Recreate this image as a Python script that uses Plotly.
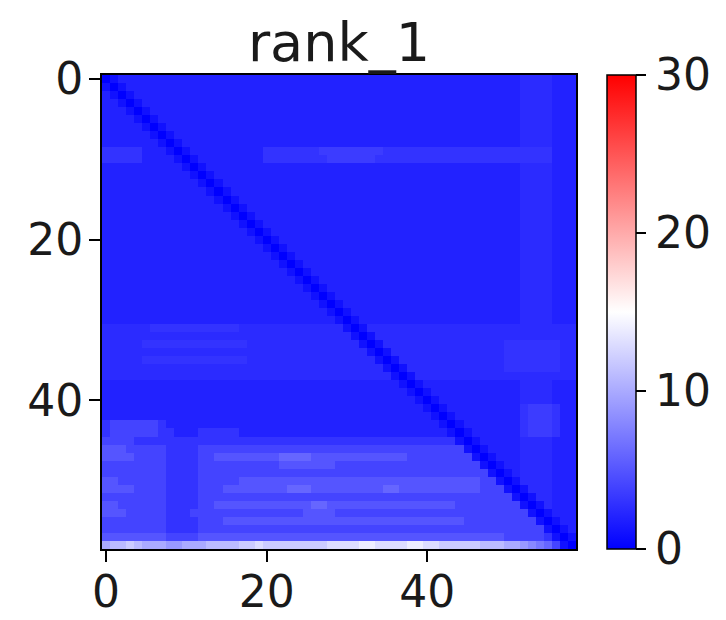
import plotly.graph_objects as go

# Pairwise score matrix (59 x 59), row by row
rank_1 = [
    [0,1,2,2,2,2,2,2,2,2, 2,2,2,2,2,2,2,2,2,2, 2,2,2,2,2,2,2,2,2,2, 2,2,2,2,2,2,2,2,2,2, 2,2,2,2,2,2,2,2,2,2, 2,2,2.5,2.5,2.5,2.5,2,2,2],
    [1,0,1,2,2,2,2,2,2,2, 2,2,2,2,2,2,2,2,2,2, 2,2,2,2,2,2,2,2,2,2, 2,2,2,2,2,2,2,2,2,2, 2,2,2,2,2,2,2,2,2,2, 2,2,2.5,2.5,2.5,2.5,2,2,2],
    [2,1,0,1,2,2,2,2,2,2, 2,2,2,2,2,2,2,2,2,2, 2,2,2,2,2,2,2,2,2,2, 2,2,2,2,2,2,2,2,2,2, 2,2,2,2,2,2,2,2,2,2, 2,2,2.5,2.5,2.5,2.5,2,2,2],
    [2,2,1,0,1,2,2,2,2,2, 2,2,2,2,2,2,2,2,2,2, 2,2,2,2,2,2,2,2,2,2, 2,2,2,2,2,2,2,2,2,2, 2,2,2,2,2,2,2,2,2,2, 2,2,2.5,2.5,2.5,2.5,2,2,2],
    [2,2,2,1,0,1,2,2,2,2, 2,2,2,2,2,2,2,2,2,2, 2,2,2,2,2,2,2,2,2,2, 2,2,2,2,2,2,2,2,2,2, 2,2,2,2,2,2,2,2,2,2, 2,2,2.5,2.5,2.5,2.5,2,2,2],
    [2,2,2,2,1,0,1,2,2,2, 2,2,2,2,2,2,2,2,2,2, 2,2,2,2,2,2,2,2,2,2, 2,2,2,2,2,2,2,2,2,2, 2,2,2,2,2,2,2,2,2,2, 2,2,2.5,2.5,2.5,2.5,2,2,2],
    [2,2,2,2,2,1,0,1,2,2, 2,2,2,2,2,2,2,2,2,2, 2,2,2,2,2,2,2,2,2,2, 2,2,2,2,2,2,2,2,2,2, 2,2,2,2,2,2,2,2,2,2, 2,2,2.5,2.5,2.5,2.5,2,2,2],
    [2,2,2,2,2,2,1,0,1,2, 2,2,2,2,2,2,2,2,2,2, 2,2,2,2,2,2,2,2,2,2, 2,2,2,2,2,2,2,2,2,2, 2,2,2,2,2,2,2,2,2,2, 2,2,2.5,2.5,2.5,2.5,2,2,2],
    [2,2,2,2,2,2,2,1,0,1, 2,2,2,2,2,2,2,2,2,2, 2,2,2,2,2,2,2,2,2,2, 2,2,2,2,2,2,2,2,2,2, 2,2,2,2,2,2,2,2,2,2, 2,2,2.5,2.5,2.5,2.5,2,2,2],
    [3,3,3,3,3,2,2,2,1,0, 1,2,2,2,2,2,2,2,2,2, 3,3,3,3,3,3,3,3.5,3.5,3.5, 3.5,3.5,3.5,3.5,3.5,3,3,3,3,3, 3,3,3,3,3,3,3,3,3,3, 3,3,3,3,3,3,2,2,2],
    [3,3,3,3,3,2,2,2,2,1, 0,1,2,2,2,2,2,2,2,2, 3,3,3,3,3,3,3,3,3.5,3.5, 3.5,3.5,3.5,3.5,3,3,3,3,3,3, 3,3,3,3,3,3,3,3,3,3, 3,3,3,3,3,3,2,2,2],
    [2,2,2,2,2,2,2,2,2,2, 1,0,1,2,2,2,2,2,2,2, 2,2,2,2,2,2,2,2,2,2, 2,2,2,2,2,2,2,2,2,2, 2,2,2,2,2,2,2,2,2,2, 2,2,2.5,2.5,2.5,2.5,2,2,2],
    [2,2,2,2,2,2,2,2,2,2, 2,1,0,1,2,2,2,2,2,2, 2,2,2,2,2,2,2,2,2,2, 2,2,2,2,2,2,2,2,2,2, 2,2,2,2,2,2,2,2,2,2, 2,2,2.5,2.5,2.5,2.5,2,2,2],
    [2,2,2,2,2,2,2,2,2,2, 2,2,1,0,1,2,2,2,2,2, 2,2,2,2,2,2,2,2,2,2, 2,2,2,2,2,2,2,2,2,2, 2,2,2,2,2,2,2,2,2,2, 2,2,2.5,2.5,2.5,2.5,2,2,2],
    [2,2,2,2,2,2,2,2,2,2, 2,2,2,1,0,1,2,2,2,2, 2,2,2,2,2,2,2,2,2,2, 2,2,2,2,2,2,2,2,2,2, 2,2,2,2,2,2,2,2,2,2, 2,2,2.5,2.5,2.5,2.5,2,2,2],
    [2,2,2,2,2,2,2,2,2,2, 2,2,2,2,1,0,1,2,2,2, 2,2,2,2,2,2,2,2,2,2, 2,2,2,2,2,2,2,2,2,2, 2,2,2,2,2,2,2,2,2,2, 2,2,2.5,2.5,2.5,2.5,2,2,2],
    [2,2,2,2,2,2,2,2,2,2, 2,2,2,2,2,1,0,1,2,2, 2,2,2,2,2,2,2,2,2,2, 2,2,2,2,2,2,2,2,2,2, 2,2,2,2,2,2,2,2,2,2, 2,2,2.5,2.5,2.5,2.5,2,2,2],
    [2,2,2,2,2,2,2,2,2,2, 2,2,2,2,2,2,1,0,1,2, 2,2,2,2,2,2,2,2,2,2, 2,2,2,2,2,2,2,2,2,2, 2,2,2,2,2,2,2,2,2,2, 2,2,2.5,2.5,2.5,2.5,2,2,2],
    [2,2,2,2,2,2,2,2,2,2, 2,2,2,2,2,2,2,1,0,1, 2,2,2,2,2,2,2,2,2,2, 2,2,2,2,2,2,2,2,2,2, 2,2,2,2,2,2,2,2,2,2, 2,2,2.5,2.5,2.5,2.5,2,2,2],
    [2,2,2,2,2,2,2,2,2,2, 2,2,2,2,2,2,2,2,1,0, 1,2,2,2,2,2,2,2,2,2, 2,2,2,2,2,2,2,2,2,2, 2,2,2,2,2,2,2,2,2,2, 2,2,2.5,2.5,2.5,2.5,2,2,2],
    [2,2,2,2,2,2,2,2,2,2, 2,2,2,2,2,2,2,2,2,1, 0,1,2,2,2,2,2,2,2,2, 2,2,2,2,2,2,2,2,2,2, 2,2,2,2,2,2,2,2,2,2, 2,2,2.5,2.5,2.5,2.5,2,2,2],
    [2,2,2,2,2,2,2,2,2,2, 2,2,2,2,2,2,2,2,2,2, 1,0,1,2,2,2,2,2,2,2, 2,2,2,2,2,2,2,2,2,2, 2,2,2,2,2,2,2,2,2,2, 2,2,2.5,2.5,2.5,2.5,2,2,2],
    [2,2,2,2,2,2,2,2,2,2, 2,2,2,2,2,2,2,2,2,2, 2,1,0,1,2,2,2,2,2,2, 2,2,2,2,2,2,2,2,2,2, 2,2,2,2,2,2,2,2,2,2, 2,2,2.5,2.5,2.5,2.5,2,2,2],
    [2,2,2,2,2,2,2,2,2,2, 2,2,2,2,2,2,2,2,2,2, 2,2,1,0,1,2,2,2,2,2, 2,2,2,2,2,2,2,2,2,2, 2,2,2,2,2,2,2,2,2,2, 2,2,2.5,2.5,2.5,2.5,2,2,2],
    [2,2,2,2,2,2,2,2,2,2, 2,2,2,2,2,2,2,2,2,2, 2,2,2,1,0,1,2,2,2,2, 2,2,2,2,2,2,2,2,2,2, 2,2,2,2,2,2,2,2,2,2, 2,2,2.5,2.5,2.5,2.5,2,2,2],
    [2,2,2,2,2,2,2,2,2,2, 2,2,2,2,2,2,2,2,2,2, 2,2,2,2,1,0,1,2,2,2, 2,2,2,2,2,2,2,2,2,2, 2,2,2,2,2,2,2,2,2,2, 2,2,2.5,2.5,2.5,2.5,2,2,2],
    [2,2,2,2,2,2,2,2,2,2, 2,2,2,2,2,2,2,2,2,2, 2,2,2,2,2,1,0,1,2,2, 2,2,2,2,2,2,2,2,2,2, 2,2,2,2,2,2,2,2,2,2, 2,2,2.5,2.5,2.5,2.5,2,2,2],
    [2,2,2,2,2,2,2,2,2,2, 2,2,2,2,2,2,2,2,2,2, 2,2,2,2,2,2,1,0,1,2, 2,2,2,2,2,2,2,2,2,2, 2,2,2,2,2,2,2,2,2,2, 2,2,2.5,2.5,2.5,2.5,2,2,2],
    [2,2,2,2,2,2,2,2,2,2, 2,2,2,2,2,2,2,2,2,2, 2,2,2,2,2,2,2,1,0,1, 2,2,2,2,2,2,2,2,2,2, 2,2,2,2,2,2,2,2,2,2, 2,2,2.5,2.5,2.5,2.5,2,2,2],
    [2,2,2,2,2,2,2,2,2,2, 2,2,2,2,2,2,2,2,2,2, 2,2,2,2,2,2,2,2,1,0, 1,2,2,2,2,2,2,2,2,2, 2,2,2,2,2,2,2,2,2,2, 2,2,2.5,2.5,2.5,2.5,2,2,2],
    [2,2,2,2,2,2,2,2,2,2, 2,2,2,2,2,2,2,2,2,2, 2,2,2,2,2,2,2,2,2,1, 0,1,2,2,2,2,2,2,2,2, 2,2,2,2,2,2,2,2,2,2, 2,2,2.5,2.5,2.5,2.5,2,2,2],
    [2.5,2.5,2.5,2.5,2.5,2.5,3,3,3,3, 3,3,3,3,3,3,3,2.5,2.5,2.5, 2.5,2.5,2.5,2.5,2.5,2.5,2.5,2.5,2.5,2.5, 1,0,1,2.5,2.5,2.5,2.5,2.5,2.5,2.5, 2.5,2.5,2.5,2.5,2.5,2.5,2.5,2.5,2.5,2.5, 2.5,2.5,2.5,2.5,2.5,2.5,2.5,2.5,2.5],
    [2.5,2.5,2.5,2.5,2.5,2.5,2.5,2.5,2.5,2.5, 2.5,2.5,2.5,2.5,2.5,2.5,2.5,2.5,2.5,2.5, 2.5,2.5,2.5,2.5,2.5,2.5,2.5,2.5,2.5,2.5, 2.5,1,0,1,2.5,2.5,2.5,2.5,2.5,2.5, 2.5,2.5,2.5,2.5,2.5,2.5,2.5,2.5,2.5,2.5, 2.5,2.5,2.5,2.5,2.5,2.5,2.5,2.5,2.5],
    [2.5,2.5,2.5,2.5,2.5,3,3,3,3,3, 3,3,3,3,3,3,3,3,2.5,2.5, 2.5,2.5,2.5,2.5,2.5,2.5,2.5,2.5,2.5,2.5, 2.5,2.5,1,0,1,2.5,2.5,2.5,2.5,2.5, 2.5,2.5,2.5,2.5,2.5,2.5,2.5,2.5,2.5,2.5, 3,3,3,3,3,3,3,2.5,2.5],
    [2.5,2.5,2.5,2.5,2.5,2.5,2.5,2.5,2.5,2.5, 2.5,2.5,2.5,2.5,2.5,2.5,2.5,2.5,2.5,2.5, 2.5,2.5,2.5,2.5,2.5,2.5,2.5,2.5,2.5,2.5, 2.5,2.5,2.5,1,0,1,2.5,2.5,2.5,2.5, 2.5,2.5,2.5,2.5,2.5,2.5,2.5,2.5,2.5,2.5, 3,3,3,3,3,3,3,2.5,2.5],
    [2.5,2.5,2.5,2.5,2.5,3,3,3,3,3, 3,3,3,3,3,3,3,3,2.5,2.5, 2.5,2.5,2.5,2.5,2.5,2.5,2.5,2.5,2.5,2.5, 2.5,2.5,2.5,2.5,1,0,1,2.5,2.5,2.5, 2.5,2.5,2.5,2.5,2.5,2.5,2.5,2.5,2.5,2.5, 3,3,3,3,3,3,3,2.5,2.5],
    [2.5,2.5,2.5,2.5,2.5,2.5,2.5,2.5,2.5,2.5, 2.5,2.5,2.5,2.5,2.5,2.5,2.5,2.5,2.5,2.5, 2.5,2.5,2.5,2.5,2.5,2.5,2.5,2.5,2.5,2.5, 2.5,2.5,2.5,2.5,2.5,1,0,1,2.5,2.5, 2.5,2.5,2.5,2.5,2.5,2.5,2.5,2.5,2.5,2.5, 3,3,3,3,3,3,3,2.5,2.5],
    [2.5,2.5,2.5,2.5,2.5,2.5,2.5,2.5,2.5,2.5, 2.5,2.5,2.5,2.5,2.5,2.5,2.5,2.5,2.5,2.5, 2.5,2.5,2.5,2.5,2.5,2.5,2.5,2.5,2.5,2.5, 2.5,2.5,2.5,2.5,2.5,2.5,1,0,1,2.5, 2.5,2.5,2.5,2.5,2.5,2.5,2.5,2.5,2.5,2.5, 2.5,2.5,2.5,2.5,2.5,2.5,2.5,2.5,2.5],
    [2,2,2,2,2,2,2,2,2,2, 2,2,2,2,2,2,2,2,2,2, 2,2,2,2,2,2,2,2,2,2, 2,2,2,2,2,2,2,1,0,1, 2,2,2,2,2,2,2,2,2,2, 2,2,2.5,2.5,2.5,2.5,2,2,2],
    [2,2,2,2,2,2,2,2,2,2, 2,2,2,2,2,2,2,2,2,2, 2,2,2,2,2,2,2,2,2,2, 2,2,2,2,2,2,2,2,1,0, 1,2,2,2,2,2,2,2,2,2, 2,2,2.5,2.5,2.5,2.5,2,2,2],
    [2,2,2,2,2,2,2,2,2,2, 2,2,2,2,2,2,2,2,2,2, 2,2,2,2,2,2,2,2,2,2, 2,2,2,2,2,2,2,2,2,1, 0,1,2,2,2,2,2,2,2,2, 2,2,2.5,2.5,2.5,2.5,2,2,2],
    [2,2,2,2,2,2,2,2,2,2, 2,2,2,2,2,2,2,2,2,2, 2,2,2,2,2,2,2,2,2,2, 2,2,2,2,2,2,2,2,2,2, 1,0,1,2,2,2,2,2,2,2, 2,2,3,3.5,3.5,3.5,3,2,2],
    [2,2,2,2,2,2,2,2,2,2, 2,2,2,2,2,2,2,2,2,2, 2,2,2,2,2,2,2,2,2,2, 2,2,2,2,2,2,2,2,2,2, 2,1,0,1,2,2,2,2,2,2, 2,2,3,3.5,3.5,3.5,3,2,2],
    [3,4,4,4,4,4,4,3,2,2, 2,2,2,2,2,2,2,2,2,2, 2,2,2,2,2,2,2,2,2,2, 2,2,2,2,2,2,2,2,2,2, 2,2,1,0,1,2,2,2,2,2, 2,2,3,3.5,3.5,3.5,3,2,2],
    [3,4,4,4,4,4,4,3,3,2, 2,2,3,3,3,3,3,2,2,2, 2,2,2,2,2,2,2,2,2,2, 2,2,2,2,2,2,2,2,2,2, 2,2,2,1,0,1,2,2,2,2, 2,2,3,3.5,3.5,3.5,3,2,2],
    [4,4,4,4,3,3,3,3,3,3, 3,3,3,3,3,3,3,3,3,3, 3,3,3,3,3,3,3,3,3,3, 3,3,3,3,3,3,3,3,3,3, 3,3,3,3,1,0,1,2,2,2, 2,2,2.5,2.5,2.5,2.5,2,2,2],
    [5,5,5,4,4,4,4,4,3,3, 3,3,4,4,4,4,4,4,4,4, 4,4,4,4,4,4,4,4,4,4, 4,4,4,4,4,4,4,4,4,4, 4,4,4,4,4,1,0,1,2,2, 2,2,2.5,2.5,2.5,2.5,2,2,2],
    [5,5,5,5,4,4,4,4,3,3, 3,3,4,4,5,5,5,5,5,5, 5,5,6,6,6,6,5,5,5,5, 5,5,5,5,5,5,5,5,4,4, 4,4,4,4,4,4,1,0,1,2, 2,2,2.5,2.5,2.5,2.5,2,2,2],
    [4,4,4,4,4,4,4,4,3,3, 3,3,4,4,4,4,4,4,4,4, 4,4,5,5,5,5,5,5,5,4, 4,4,4,4,4,4,4,4,4,4, 4,4,4,4,4,4,4,1,0,1, 2,2,2.5,2.5,2.5,2.5,2,2,2],
    [4,4,4,4,4,4,4,4,3,3, 3,3,4,4,4,4,4,4,4,4, 4,4,4,4,4,4,4,4,4,4, 4,4,4,4,4,4,4,4,4,4, 4,4,4,4,4,4,4,4,1,0, 1,2,2.5,2.5,2.5,2.5,2,2,2],
    [5,5,4,4,4,4,4,4,3,3, 3,3,4,4,4,4,4,5,5,5, 5,5,5,5,5,5,5,5,5,5, 5,5,5,5,5,5,5,5,5,5, 5,5,5,5,5,5,5,4,4,1, 0,1,2.5,2.5,2.5,2.5,2,2,2],
    [5,5,5,5,4,4,4,4,3,3, 3,3,4,4,4,5,5,5,5,5, 5,5,5,6,6,6,5,5,5,5, 5,5,5,5,5,6,6,5,5,5, 5,5,5,5,5,5,5,4,4,4, 1,0,1,2.5,2.5,2.5,2,2,2],
    [4,4,4,4,4,4,4,4,3,3, 3,3,4,4,4,4,4,4,4,4, 4,4,4,4,4,4,4,4,4,4, 4,4,4,4,4,4,4,4,4,4, 4,4,4,4,4,4,4,4,4,4, 4,1,0,1,2.5,2.5,2,2,2],
    [5,5,4,4,4,4,4,4,3,3, 3,3,4,4,5,5,5,5,5,5, 5,5,5,5,5,5,6,6,5,5, 5,5,5,5,5,5,5,5,5,5, 5,5,5,5,4,4,4,4,4,4, 4,4,1,0,1,2.5,2,2,2],
    [5,5,5,4,4,4,4,4,3,3, 3,4,4,4,4,4,4,4,4,4, 4,4,4,4,4,5,5,5,5,4, 4,4,4,4,4,4,4,4,4,4, 4,4,4,4,4,4,4,4,4,4, 4,4,4,1,0,1,2,2,2],
    [4,4,4,4,4,4,4,4,3,3, 3,3,4,4,4,5,5,5,5,5, 5,5,5,5,5,5,5,5,5,5, 5,5,5,5,5,5,5,5,5,5, 5,5,5,5,5,4,4,4,4,4, 4,4,4,4,1,0,1,2,2],
    [4,4,4,4,4,4,4,4,3,3, 3,3,4,4,4,4,4,4,4,4, 4,4,4,4,4,4,4,4,4,4, 4,4,4,4,4,4,4,4,4,4, 4,4,4,4,4,4,4,4,4,4, 4,4,4,4,4,1,0,1,2],
    [5,5,5,5,5,5,5,5,4,4, 4,4,5,5,5,5,5,5,5,5, 5,5,5,5,5,5,5,5,5,5, 5,5,5,5,5,5,5,5,5,5, 5,5,5,5,5,5,5,5,5,5, 4,4,4,4,4,3,1,0,1],
    [10,11,11,12,11,10,10,10,9,9, 10,10,10,11,11,11,11,12,12,13, 12,12,12,12,12,12,12,12,13,13, 13,13,14,14,13,13,13,13,14,14, 13,13,12,12,12,12,12,11,11,11, 10,10,9,8,7,6,4,1,0],
]
for row in rank_1:
    assert len(row) == 59, len(row)

z_min, z_max = 0, 30
tick_vals = [0, 20, 40]
cbar_ticks = [0, 10, 20, 30]

# blue-white-red diverging scale
bwr = [[0.0, "rgb(0,0,255)"], [0.5, "rgb(255,255,255)"], [1.0, "rgb(255,0,0)"]]

W, H = 726, 620
L, R, T, B = 102, 150, 75, 71
plot_w = W - L - R
FONT = "DejaVu Sans"
TICK_SIZE = 44

fig = go.Figure(
    go.Heatmap(
        z=rank_1,
        zmin=z_min,
        zmax=z_max,
        colorscale=bwr,
        colorbar=dict(
            thickness=29,
            thicknessmode="pixels",
            len=H - T - B,
            lenmode="pixels",
            x=(607 - L) / plot_w,
            xanchor="left",
            xref="paper",
            y=1,
            yanchor="top",
            yref="paper",
            outlinecolor="black",
            outlinewidth=1.5,
            tickvals=cbar_ticks,
            ticks="outside",
            ticklen=10,
            tickwidth=2,
            tickcolor="black",
            tickfont=dict(family=FONT, size=TICK_SIZE, color="#1a1a1a"),
            xpad=0,
            ypad=0,
        ),
    )
)

axis_common = dict(
    showgrid=False,
    zeroline=False,
    showline=True,
    mirror=True,
    linecolor="black",
    linewidth=2,
    ticks="outside",
    ticklen=11,
    tickwidth=2,
    tickcolor="black",
    tickvals=tick_vals,
    tickfont=dict(family=FONT, size=TICK_SIZE, color="#1a1a1a"),
    automargin=False,
)

fig.update_layout(
    width=W,
    height=H,
    margin=dict(l=L, r=R, t=T, b=B, autoexpand=False),
    paper_bgcolor="white",
    plot_bgcolor="white",
    title=dict(
        text="rank_1",
        x=(L + plot_w / 2) / W,
        xanchor="center",
        y=1 - 42 / H,
        yanchor="middle",
        automargin=False,
        font=dict(family=FONT, size=54, color="#1a1a1a"),
    ),
    xaxis=dict(range=[-0.5, 58.5], ticklabelstandoff=-8, **axis_common),
    yaxis=dict(range=[58.5, -0.5], ticklabelstandoff=-3, **axis_common),
)

fig.write_html("out.html")
